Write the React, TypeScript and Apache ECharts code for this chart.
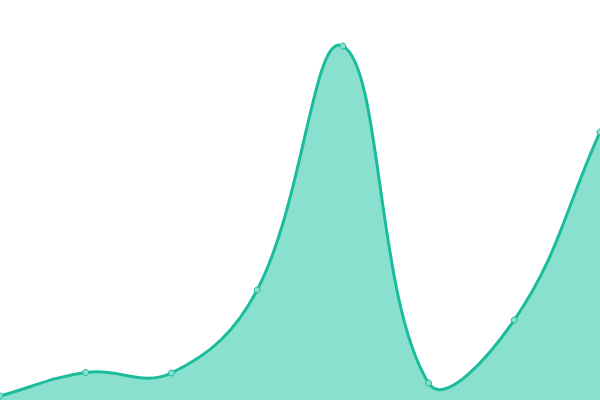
import React, { useEffect, useRef } from "react";
import * as echarts from "echarts";

const categories = ["A", "B", "C", "D", "E", "F", "G", "H"];
const values = [4, 27.5, 27, 110, 354, 17, 80, 268];
const yMax = 400;
const tension = 0.4;

export default function App() {
  const ref = useRef<HTMLDivElement>(null);
  useEffect(() => {
    const chart = echarts.init(ref.current!, null, { renderer: "svg" });
    const renderItem = (params: any, api: any) => {
      if (params.dataIndex !== 0) return null;
      const pts: number[][] = values.map((v, i) => api.coord([i, v]));
      const n = pts.length;
      const cps: { prev: number[]; next: number[] }[] = [];
      for (let i = 0; i < n; i++) {
        const p0 = pts[Math.max(0, i - 1)];
        const p1 = pts[i];
        const p2 = pts[Math.min(n - 1, i + 1)];
        const d01 = Math.hypot(p1[0] - p0[0], p1[1] - p0[1]);
        const d12 = Math.hypot(p2[0] - p1[0], p2[1] - p1[1]);
        const sum = d01 + d12 || 1;
        const fa = (tension * d01) / sum;
        const fb = (tension * d12) / sum;
        cps.push({
          prev: [p1[0] - fa * (p2[0] - p0[0]), p1[1] - fa * (p2[1] - p0[1])],
          next: [p1[0] + fb * (p2[0] - p0[0]), p1[1] + fb * (p2[1] - p0[1])],
        });
      }
      let d = `M${pts[0][0]},${pts[0][1]}`;
      for (let i = 1; i < n; i++) {
        const a = cps[i - 1].next;
        const b = cps[i].prev;
        d += ` C${a[0]},${a[1]} ${b[0]},${b[1]} ${pts[i][0]},${pts[i][1]}`;
      }
      const base = api.coord([0, 0])[1];
      const area = d + ` L${pts[n - 1][0]},${base} L${pts[0][0]},${base} Z`;
      const children: any[] = [
        { type: "path", shape: { pathData: area }, style: { fill: "#8ae0cf", stroke: null } },
        {
          type: "path",
          shape: { pathData: d },
          style: { fill: null, stroke: "#1abc9c", lineWidth: 3 },
        },
      ];
      pts.forEach((p) => {
        children.push({
          type: "circle",
          shape: { cx: p[0], cy: p[1], r: 3 },
          style: { fill: "#8ae0cf", stroke: "#1abc9c", lineWidth: 1 },
        });
      });
      return { type: "group", children };
    };
    chart.setOption({
      animation: false,
      backgroundColor: "#ffffff",
      grid: { left: 0, right: 0, top: 0, bottom: 0 },
      xAxis: {
        type: "category",
        data: categories,
        boundaryGap: false,
        show: false,
      },
      yAxis: { type: "value", min: 0, max: yMax, show: false },
      series: [
        {
          type: "custom",
          renderItem,
          clip: true,
          data: values.map((v, i) => [i, v]),
          encode: { x: 0, y: 1 },
        },
      ],
    });
    return () => chart.dispose();
  }, []);
  return (
    <div
      ref={ref}
      style={{ position: "fixed", left: 0, top: 0, width: 600, height: 400 }}
    />
  );
}
